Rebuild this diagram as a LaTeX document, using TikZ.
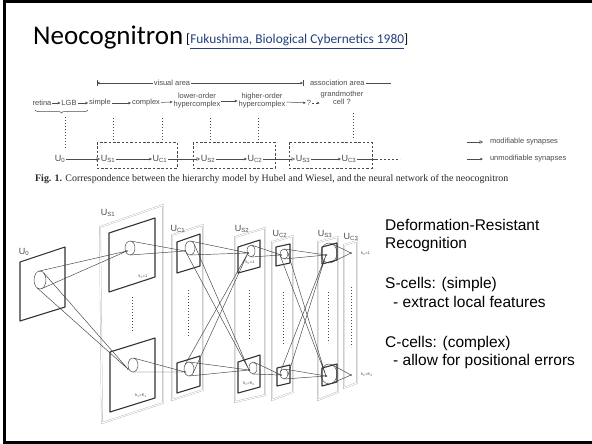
\documentclass[tikz,border=0pt]{standalone}
\usepackage{fontspec}
\setmainfont{Liberation Sans}
\newfontfamily\calibf{Carlito}
\newfontfamily\serf{Liberation Serif}
\usetikzlibrary{arrows.meta,decorations.pathreplacing}
\definecolor{linkblue}{HTML}{24407A}
\definecolor{ink}{gray}{0.3}
\newcommand{\conelines}[6]{%
  \pgfmathsetmacro{\cdx}{#5-(#1)}%
  \pgfmathsetmacro{\cdy}{#6-(#2)}%
  \pgfmathsetmacro{\cR}{veclen(#4*\cdx,#3*\cdy)}%
  \pgfmathsetmacro{\cphi}{atan2(#3*\cdy,#4*\cdx)}%
  \pgfmathsetmacro{\cdel}{acos(#3*#4/\cR)}%
  \draw[cone] ({#1+#3*cos(\cphi+\cdel)},{#2+#4*sin(\cphi+\cdel)}) -- (#5,#6) -- ({#1+#3*cos(\cphi-\cdel)},{#2+#4*sin(\cphi-\cdel)});%
  \fill[ink] (#5,#6) circle (0.9);%
}
\begin{document}
\begin{tikzpicture}[x=1pt,y=-1pt,
  lett/.style={font=\fontsize{7.5}{8}\selectfont, text=ink, inner sep=0.8pt, align=center},
  ulab/.style={font=\fontsize{9}{10}\selectfont, text=ink, inner sep=0.5pt},
  klab/.style={font=\fontsize{4}{4}\selectfont, text=ink, inner sep=0pt},
  sarr/.style={draw=ink, line width=0.5pt, -{Stealth[length=3pt,width=2.6pt]}},
  marr/.style={draw=ink, line width=0.5pt, -{Triangle[open,length=3.5pt,width=3.5pt]}},
  dbox/.style={draw=ink, line width=0.5pt, dash pattern=on 2.5pt off 1.8pt},
  vdots/.style={draw=ink, line width=0.9pt, dash pattern=on 1pt off 2pt},
  plane/.style={draw=black!80, line width=1.1pt, line join=round},
  frame/.style={draw=gray!60, line width=0.35pt, double=white, double distance=1pt},
  cone/.style={draw=black!75, line width=0.45pt},
  rtext/.style={font=\fontsize{15.5}{18}\selectfont, anchor=base west, inner sep=0pt}]
\useasboundingbox (0,0) rectangle (592,444);
\fill[white] (0,0) rectangle (592,444);
\draw[black, line width=3pt] (592,1.5) -- (4.5,1.5) -- (4.5,442.5) -- (592,442.5);

% title
\node[anchor=base west, inner sep=0pt, font=\calibf\fontsize{27}{30}\selectfont] (title) at (33,45) {Neocognitron};
\node[anchor=base west, inner sep=0pt, font=\calibf\fontsize{13.4}{15}\selectfont] (cite) at (186,44) {[\textcolor{linkblue}{\underline{Fukushima, Biological Cybernetics 1980}}]};

% ---------- top figure ----------
\node[lett] (vis) at (172,83) {visual area};
\node[lett, anchor=west] (assoc) at (309,83) {association area};
\coordinate (vl) at (97,83);
\coordinate (vr) at (303,83);
\draw[ink, line width=0.5pt] (97,80) -- (97,86) (303,80) -- (303,86);
\draw[sarr] (vis.west) -- (vl);
\draw[sarr] (vis.east) -- (vr);
\coordinate (ae) at (391,83);
\draw[ink, line width=0.5pt] (assoc.east) -- (ae);

\node[lett] (retina) at (42,103) {retina};
\node[lett] (lgb) at (69,103) {LGB};
\node[lett] (simple) at (100,103) {simple};
\node[lett] (complex) at (146,103) {complex};
\node[lett] (lower) at (197,101) {lower-order\\hypercomplex};
\node[lett] (higher) at (262,101) {higher-order\\hypercomplex};
\node[lett] (qm) at (309,103) {?};
\node[lett] (grand) at (342,98) {grandmother\\cell ?};
\draw[sarr] (retina) -- (lgb);
\draw[sarr] (lgb) -- (simple);
\draw[sarr] (simple) -- (complex);
\draw[sarr] (complex) -- (lower);
\draw[sarr] (lower) -- (higher);
\draw[sarr] (higher) -- (qm);
\draw[sarr, dash pattern=on 2pt off 1.5pt] (qm) -- (grand.west |- qm);
\draw[ink, line width=0.5pt, decorate, decoration={brace, amplitude=3pt, mirror}] (35,110) -- (88,110);

\draw[vdots] (65,117) -- (65,150);
\draw[vdots] (113,118) -- (113,140);
\draw[vdots] (162,118) -- (162,140);
\draw[vdots] (210,118) -- (210,140);
\draw[vdots] (258,118) -- (258,140);
\draw[vdots] (353,113) -- (353,140);

\draw[dbox] (97,142) rectangle (177,168);
\draw[dbox] (193,142) rectangle (275,168);
\draw[dbox] (289,142) rectangle (372,168);

\node[ulab] (u0) at (60,159) {U\textsubscript{0}};
\node[ulab] (us1) at (108,159) {U\textsubscript{S1}};
\node[ulab] (uc1) at (160,159) {U\textsubscript{C1}};
\node[ulab] (us2) at (208,159) {U\textsubscript{S2}};
\node[ulab] (uc2) at (255,159) {U\textsubscript{C2}};
\node[ulab] (us3) at (303,159) {U\textsubscript{S3}};
\node[ulab] (uc3) at (349,159) {U\textsubscript{C3}};
\coordinate (tail) at (376,159);
\coordinate (tailend) at (400,159);
\draw[marr] (u0) -- (us1);
\draw[sarr] (us1) -- (uc1);
\draw[marr] (uc1) -- (us2);
\draw[sarr] (us2) -- (uc2);
\draw[marr] (uc2) -- (us3);
\draw[sarr] (us3) -- (uc3);
\draw[ink, line width=0.5pt] (uc3) -- (tail);
\draw[ink, line width=0.5pt, dash pattern=on 2pt off 2pt] (tail) -- (tailend);

% legend
\coordinate (la1) at (467,142); \coordinate (lb1) at (483,142);
\coordinate (la2) at (467,159); \coordinate (lb2) at (483,159);
\draw[marr] (la1) -- (lb1);
\draw[sarr] (la2) -- (lb2);
\node[lett, anchor=west] (leg1) at (489,142) {modifiable synapses};
\node[lett, anchor=west] (leg2) at (489,159) {unmodifiable synapses};

% caption
\node[anchor=base west, inner sep=0pt, text=black!85, font=\serf\fontsize{9.9}{11}\selectfont] (cap) at (35,181) {\textbf{Fig. 1.} Correspondence between the hierarchy model by Hubel and Wiesel, and the neural network of the neocognitron};

% ---------- bottom figure ----------
% frames
\draw[frame] (100,227) -- (163,205) -- (163,403) -- (102,423) -- cycle;
\draw[frame] (172,235) -- (203,225) -- (203,390) -- (172,400) -- cycle;
\draw[frame] (235,237) -- (265,228) -- (265,395) -- (235,402) -- cycle;
\draw[frame] (272,242) -- (293,236) -- (293,392) -- (272,400) -- cycle;
\draw[frame] (318,242) -- (338,237) -- (338,392) -- (318,400) -- cycle;
\draw[frame] (344,245) -- (357,241) -- (357,383) -- (344,388) -- cycle;
% planes
\draw[plane] (20,262) -- (65,247) -- (65,307) -- (20,321) -- cycle;
\draw[plane] (109,233) -- (155,218) -- (155,277) -- (109,292) -- cycle;
\draw[plane] (110,352) -- (155,338) -- (155,398) -- (110,412) -- cycle;
\draw[plane] (177,242) -- (200,234) -- (200,266) -- (177,273) -- cycle;
\draw[plane] (177,363) -- (200,356) -- (200,386) -- (177,393) -- cycle;
\draw[plane] (238,247) -- (260,240) -- (260,267) -- (238,273) -- cycle;
\draw[plane] (238,362) -- (260,355) -- (260,387) -- (238,393) -- cycle;
\draw[plane] (276,247) -- (290,244) -- (290,263) -- (276,266) -- cycle;
\draw[plane] (277,368) -- (290,365) -- (290,383) -- (277,386) -- cycle;
\draw[plane] (322,247) -- (337,243) -- (337,260) -- (322,264) -- cycle;
\draw[plane] (322,368) -- (337,364) -- (337,382) -- (322,386) -- cycle;
% labels
\node[ulab] (l0) at (24,252) {U\textsubscript{0}};
\node[ulab] (ls1) at (108,213) {U\textsubscript{S1}};
\node[ulab] (lc1) at (178,229) {U\textsubscript{C1}};
\node[ulab] (ls2) at (242,229) {U\textsubscript{S2}};
\node[ulab] (lc2) at (280,234) {U\textsubscript{C2}};
\node[ulab] (ls3) at (325,234) {U\textsubscript{S3}};
\node[ulab] (lc3) at (351,237) {U\textsubscript{C3}};
\node[klab] at (143,277) {k\textsubscript{1}=1};
\node[klab] at (141,396) {k\textsubscript{1}=K\textsubscript{1}};
\node[klab] at (250,263) {k\textsubscript{2}=1};
\node[klab] at (249,384) {k\textsubscript{2}=K\textsubscript{2}};
\node[klab, anchor=west] at (361,254) {k\textsubscript{3}=1};
\node[klab, anchor=west] at (361,375) {k\textsubscript{3}=K\textsubscript{3}};
% dots
\draw[vdots] (132,297) -- (132,332);
\draw[vdots] (188,290) -- (188,337);
\draw[vdots] (249,290) -- (249,340);
\draw[vdots] (283,292) -- (283,345);
\draw[vdots] (328,292) -- (328,343);
\draw[vdots] (351,287) -- (351,347);
% receptive fields
\draw[cone] (40,280) ellipse [x radius=6, y radius=9];
\draw[cone] (130,248) ellipse [x radius=5, y radius=7];
\draw[cone] (133,365) ellipse [x radius=5, y radius=7];
\draw[cone] (190,248) ellipse [x radius=5, y radius=7];
\draw[cone] (189,369) ellipse [x radius=5, y radius=7];
\draw[cone] (251,251) ellipse [x radius=4, y radius=6];
\draw[cone] (253,368) ellipse [x radius=4, y radius=6];
\draw[cone] (284,254) ellipse [x radius=4, y radius=5];
\draw[cone] (284,374) ellipse [x radius=4, y radius=5];
\draw[cone] (329,253) ellipse [x radius=8, y radius=10];
\draw[cone] (329,374) ellipse [x radius=8, y radius=10];
% cones
\conelines{40}{280}{6}{9}{127}{251}
\conelines{40}{280}{6}{9}{128}{369}
\conelines{130}{248}{5}{7}{185}{251}
\conelines{133}{365}{5}{7}{185}{372}
\conelines{190}{248}{5}{7}{248}{253}
\conelines{190}{248}{5}{7}{249}{370}
\conelines{189}{369}{5}{7}{248}{253}
\conelines{189}{369}{5}{7}{249}{370}
\conelines{251}{251}{4}{6}{281}{255}
\conelines{253}{368}{4}{6}{281}{375}
\conelines{284}{254}{4}{5}{326}{255}
\conelines{284}{254}{4}{5}{326}{376}
\conelines{284}{374}{4}{5}{326}{255}
\conelines{284}{374}{4}{5}{326}{376}
\conelines{329}{253}{8}{10}{351}{253}
\conelines{329}{374}{8}{10}{351}{375}

% ---------- right text ----------
\node[rtext] (t1) at (385,230) {Deformation-Resistant};
\node[rtext] (t2) at (385,248) {Recognition};
\node[rtext] (t3) at (385,288) {S-cells: (simple)};
\node[rtext] (t4) at (393,307) {- extract local features};
\node[rtext] (t5) at (385,347) {C-cells: (complex)};
\node[rtext] (t6) at (393,365) {- allow for positional errors};
\end{tikzpicture}
\end{document}
